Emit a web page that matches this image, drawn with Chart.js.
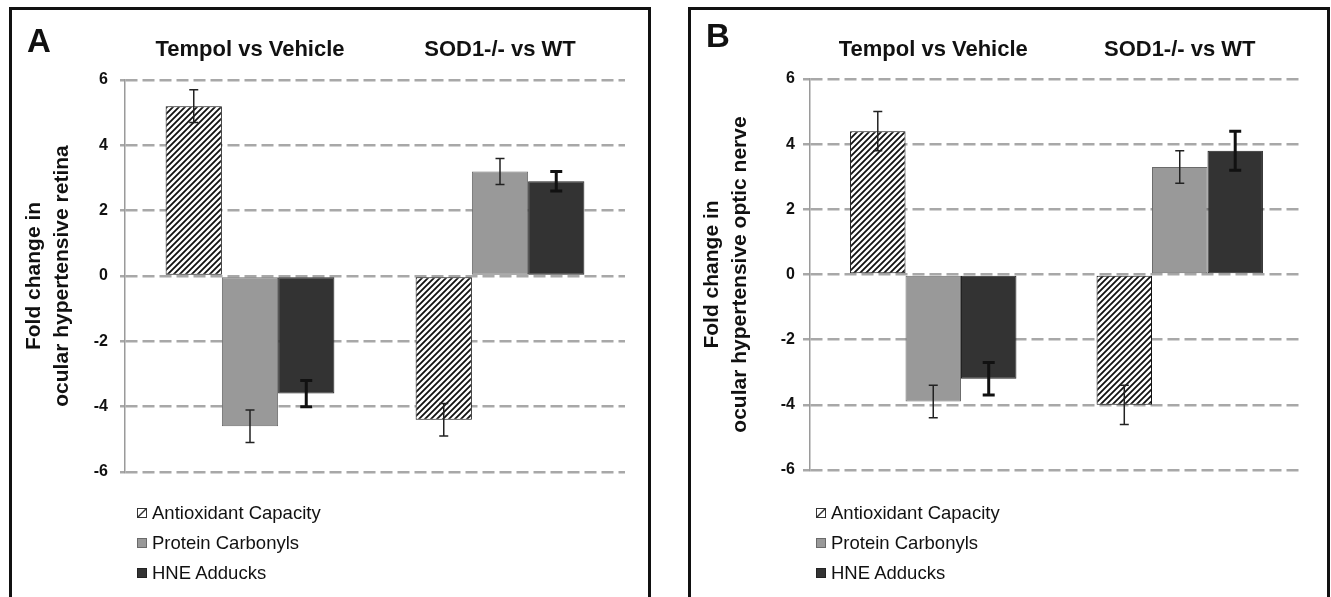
<!DOCTYPE html>
<html><head><meta charset="utf-8">
<script src="https://cdn.jsdelivr.net/npm/chart.js@4.4.0/dist/chart.umd.min.js"></script>
<style>
html,body{margin:0;padding:0;background:#fff;width:1331px;height:597px;overflow:hidden;font-family:"Liberation Sans",Arial,sans-serif;}
.panel{position:absolute;top:7px;width:636px;height:600px;border:3px solid #111;background:#fff;}
#pA{left:9px}
#pB{left:688px}
.panel canvas{position:absolute;left:0;top:0}
.letter{position:absolute;font:bold 33px/1 "Liberation Sans",Arial,sans-serif;color:#111}
.item{position:absolute;left:125px;white-space:nowrap;height:20px;display:flex;align-items:center;font:18.5px/1 "Liberation Sans",Arial,sans-serif;color:#111}
.box{width:10px;height:10px;box-sizing:border-box;margin-right:5px;flex:none}
</style>
</head>
<body>
<div class="panel" id="pA">
  <canvas id="chartA" width="636" height="590"></canvas>
  <div class="letter" style="left:15px;top:14px">A</div>
  <div id="legA"></div>
</div>
<div class="panel" id="pB">
  <canvas id="chartB" width="636" height="590"></canvas>
  <div class="letter" style="left:15px;top:9px">B</div>
  <div id="legB"></div>
</div>
<script>
// ---- data ----
const categories = ['Tempol vs Vehicle', 'SOD1-/- vs WT'];
const seriesNames = ['Antioxidant Capacity', 'Protein Carbonyls', 'HNE Adducks'];
const yTicks = [-6, -4, -2, 0, 2, 4, 6];

// Panel A: retina
const retinaAntioxidant = [5.2, -4.4];
const retinaCarbonyls = [-4.6, 3.2];
const retinaHNE = [-3.6, 2.9];
const retinaAntioxidantErr = [0.5, 0.5];
const retinaCarbonylsErr = [0.5, 0.4];
const retinaHNEErr = [0.4, 0.3];

// Panel B: optic nerve
const nerveAntioxidant = [4.4, -4.0];
const nerveCarbonyls = [-3.9, 3.3];
const nerveHNE = [-3.2, 3.8];
const nerveAntioxidantErr = [0.6, 0.6];
const nerveCarbonylsErr = [0.5, 0.5];
const nerveHNEErr = [0.5, 0.6];

const yTitleA = ['Fold change in', 'ocular hypertensive retina'];
const yTitleB = ['Fold change in', 'ocular hypertensive optic nerve'];

// ---- styles ----
const FONT = '"Liberation Sans", Arial, sans-serif';
function hatch() {
  const s = 6, c = document.createElement('canvas');
  c.width = s; c.height = s;
  const g = c.getContext('2d');
  g.fillStyle = '#fff'; g.fillRect(0, 0, s, s);
  g.strokeStyle = '#111'; g.lineWidth = 1.8;
  g.beginPath();
  g.moveTo(0, s); g.lineTo(s, 0);
  g.moveTo(-1, 1); g.lineTo(1, -1);
  g.moveTo(s - 1, s + 1); g.lineTo(s + 1, s - 1);
  g.stroke();
  return g.createPattern(c, 'repeat');
}
function legendHatchURL() {
  const c = document.createElement('canvas'); c.width = 10; c.height = 10;
  const g = c.getContext('2d');
  g.fillStyle = '#fff'; g.fillRect(0, 0, 10, 10);
  g.strokeStyle = '#333'; g.lineWidth = 1; g.strokeRect(0.5, 0.5, 9, 9);
  g.lineWidth = 1.4; g.beginPath(); g.moveTo(1, 9); g.lineTo(9, 1); g.stroke();
  return c.toDataURL();
}
const seriesStyle = [
  {fill: null, border: '#111', errColor: '#222', errWidth: 1.5, capHalf: 4.5},
  {fill: '#999999', border: '#6a6a6a', errColor: '#222', errWidth: 1.5, capHalf: 4.5},
  {fill: '#333333', border: '#222222', errColor: '#111', errWidth: 3, capHalf: 6}
];

const errorBars = {
  id: 'errorBars',
  afterDatasetsDraw(chart) {
    const ctx = chart.ctx, y = chart.scales.y;
    chart.data.datasets.forEach((ds, di) => {
      const meta = chart.getDatasetMeta(di);
      meta.data.forEach((bar, i) => {
        const v = ds.data[i], e = ds.errors[i];
        const yt = y.getPixelForValue(v + e), yb = y.getPixelForValue(v - e);
        ctx.save();
        ctx.strokeStyle = ds.errColor; ctx.lineWidth = ds.errWidth;
        ctx.beginPath();
        ctx.moveTo(bar.x, yt); ctx.lineTo(bar.x, yb);
        ctx.moveTo(bar.x - ds.capHalf, yt); ctx.lineTo(bar.x + ds.capHalf, yt);
        ctx.moveTo(bar.x - ds.capHalf, yb); ctx.lineTo(bar.x + ds.capHalf, yb);
        ctx.stroke();
        ctx.restore();
      });
    });
  }
};

function makeChart(id, values, errors, yTitle, L) {
  const pat = hatch();
  const datasets = seriesNames.map((name, k) => ({
    label: name,
    data: values[k],
    errors: errors[k],
    backgroundColor: k === 0 ? pat : seriesStyle[k].fill,
    borderColor: seriesStyle[k].border,
    borderWidth: 1,
    borderSkipped: false,
    errColor: seriesStyle[k].errColor,
    errWidth: seriesStyle[k].errWidth,
    capHalf: seriesStyle[k].capHalf,
    categoryPercentage: 0.675,
    barPercentage: 1.0
  }));
  return new Chart(document.getElementById(id), {
    type: 'bar',
    data: {labels: categories, datasets},
    plugins: [errorBars],
    options: {
      responsive: false,
      animation: false,
      devicePixelRatio: 1,
      layout: {padding: {left: 0, right: L.right, top: 0, bottom: L.bottom}},
      plugins: {legend: {display: false}, tooltip: {enabled: false}},
      scales: {
        x: {
          position: 'top',
          grid: {display: false, drawTicks: false},
          border: {display: false},
          ticks: {color: '#111', padding: L.xPad, font: {family: FONT, size: 22, weight: 'bold', lineHeight: 1.2}},
          afterFit: s => { s.height = L.top; }
        },
        y: {
          min: -6, max: 6,
          afterBuildTicks: s => { s.ticks = yTicks.map(v => ({value: v})); },
          grid: {color: '#a8a8a8', lineWidth: 2.5, drawTicks: true, tickLength: L.tickLen, tickColor: '#a8a8a8', tickWidth: 2.5},
          border: {display: true, color: '#9a9a9a', width: 1.5, dash: [12, 5]},
          ticks: {color: '#111', padding: L.tickPad, font: {family: FONT, size: 16, weight: 'bold'}},
          title: {display: true, text: yTitle, color: '#111', padding: {top: L.titlePad, bottom: 0},
                  font: {family: FONT, size: 21, weight: 'bold', lineHeight: 1.333}},
          afterFit: s => { s.width = L.axisW; }
        }
      }
    }
  });
}

makeChart('chartA',
  [retinaAntioxidant, retinaCarbonyls, retinaHNE],
  [retinaAntioxidantErr, retinaCarbonylsErr, retinaHNEErr],
  yTitleA,
  {axisW: 113, right: 23, top: 70, bottom: 128, tickLen: 5, tickPad: 12, titlePad: 8, xPad: 17});

makeChart('chartB',
  [nerveAntioxidant, nerveCarbonyls, nerveHNE],
  [nerveAntioxidantErr, nerveCarbonylsErr, nerveHNEErr],
  yTitleB,
  {axisW: 119, right: 24, top: 69, bottom: 130, tickLen: 7, tickPad: 8, titlePad: 7, xPad: 16});

// ---- HTML legends ----
function buildLegend(id) {
  const el = document.getElementById(id);
  const hURL = legendHatchURL();
  const centers = [503, 533, 563];
  seriesNames.forEach((name, k) => {
    const it = document.createElement('div');
    it.className = 'item';
    it.style.top = (centers[k] - 10) + 'px';
    const b = document.createElement('span');
    b.className = 'box';
    if (k === 0) { b.style.backgroundImage = 'url(' + hURL + ')'; }
    else { b.style.background = seriesStyle[k].fill; b.style.border = '1px solid ' + seriesStyle[k].border; }
    const t = document.createElement('span');
    t.textContent = name;
    it.appendChild(b); it.appendChild(t);
    el.appendChild(it);
  });
}
buildLegend('legA');
buildLegend('legB');
</script>
</body></html>
